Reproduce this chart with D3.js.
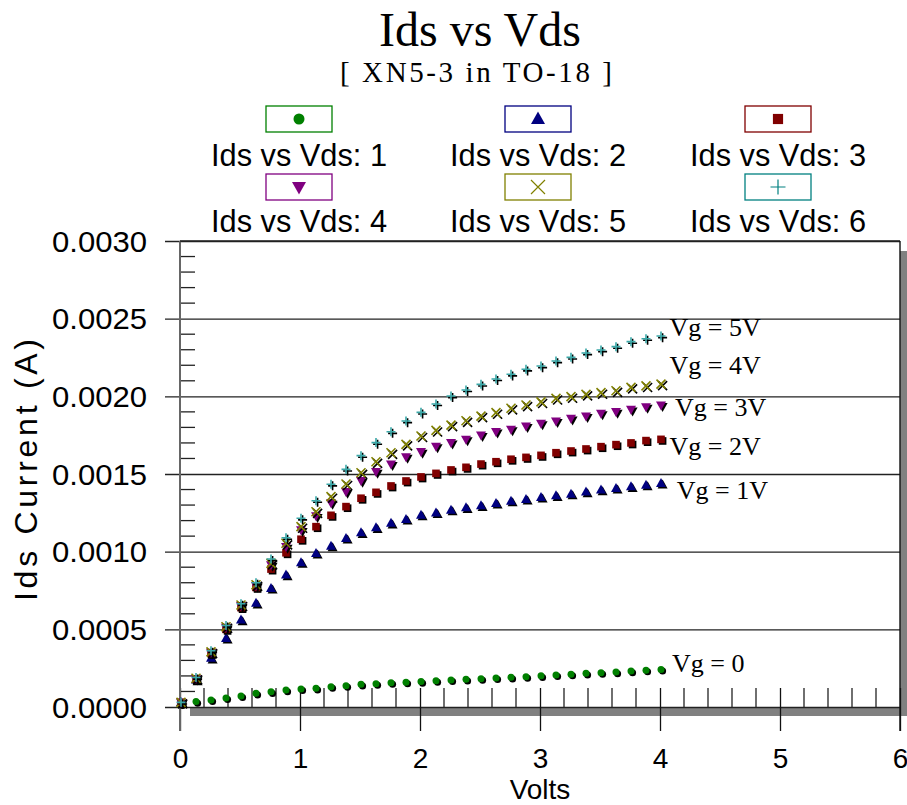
<!DOCTYPE html>
<html>
<head>
<meta charset="utf-8">
<script src="https://cdn.jsdelivr.net/npm/d3@7"></script>
<style>
  html, body { margin: 0; padding: 0; background: #ffffff; }
  svg { display: block; }
</style>
</head>
<body>
<svg id="chart" width="907" height="805"></svg>
<script>
// Drain-source sweep (V)
const volts = [0, 0.125, 0.25, 0.375, 0.5, 0.625, 0.75, 0.875, 1, 1.125, 1.25, 1.375, 1.5, 1.625, 1.75, 1.875,
  2, 2.125, 2.25, 2.375, 2.5, 2.625, 2.75, 2.875, 3, 3.125, 3.25, 3.375, 3.5, 3.625, 3.75, 3.875, 4];

// Drain current (A) for each gate voltage
const idsVg0 = [0.00002, 0.000035, 0.000045, 0.000058, 0.000071, 0.000088, 0.000098, 0.000109, 0.000116, 0.000120,
  0.000131, 0.000137, 0.000146, 0.000150, 0.000156, 0.000160, 0.000164, 0.000169, 0.000174, 0.000178, 0.000182,
  0.000187, 0.000191, 0.000195, 0.000201, 0.000206, 0.000211, 0.000217, 0.000221, 0.000225, 0.000231, 0.000237, 0.000242];
const idsVg1 = [0.00003, 0.000174, 0.000314, 0.000442, 0.000560, 0.000668, 0.000764, 0.000850, 0.000930, 0.000989,
  0.001036, 0.001086, 0.001122, 0.001154, 0.001183, 0.001208, 0.001235, 0.001250, 0.001268, 0.001283, 0.001296,
  0.001311, 0.001326, 0.001337, 0.001350, 0.001360, 0.001371, 0.001384, 0.001397, 0.001408, 0.001418, 0.001429, 0.001440];
const idsVg2 = [0.00003, 0.000180, 0.000345, 0.000500, 0.000640, 0.000770, 0.000888, 0.000993, 0.001080, 0.001161,
  0.001234, 0.001290, 0.001344, 0.001382, 0.001423, 0.001455, 0.001481, 0.001504, 0.001526, 0.001543, 0.001564,
  0.001579, 0.001595, 0.001607, 0.001620, 0.001637, 0.001648, 0.001661, 0.001676, 0.001689, 0.001700, 0.001715, 0.001723];
const idsVg3 = [0.00003, 0.000183, 0.000352, 0.000512, 0.000652, 0.000782, 0.000915, 0.001032, 0.001140, 0.001230,
  0.001315, 0.001386, 0.001457, 0.001515, 0.001564, 0.001611, 0.001644, 0.001678, 0.001702, 0.001723, 0.001751,
  0.001773, 0.001788, 0.001809, 0.001826, 0.001841, 0.001858, 0.001873, 0.001891, 0.001901, 0.001916, 0.001933, 0.001944];
const idsVg4 = [0.00003, 0.000185, 0.000355, 0.000517, 0.000657, 0.000787, 0.000925, 0.001054, 0.001161, 0.001257,
  0.001354, 0.001436, 0.001508, 0.001579, 0.001637, 0.001691, 0.001745, 0.001781, 0.001815, 0.001843, 0.001873,
  0.001895, 0.001923, 0.001944, 0.001964, 0.001987, 0.001998, 0.002013, 0.002024, 0.002036, 0.002058, 0.002067, 0.002079];
const idsVg5 = [0.00003, 0.000190, 0.000362, 0.000525, 0.000665, 0.000800, 0.000953, 0.001090, 0.001215, 0.001328,
  0.001434, 0.001530, 0.001618, 0.001702, 0.001772, 0.001841, 0.001897, 0.001951, 0.002002, 0.002041, 0.002077,
  0.002112, 0.002142, 0.002174, 0.002195, 0.002227, 0.002251, 0.002279, 0.002298, 0.002320, 0.002352, 0.002371, 0.002388];

const seriesNames = ["Ids vs Vds: 1", "Ids vs Vds: 2", "Ids vs Vds: 3", "Ids vs Vds: 4", "Ids vs Vds: 5", "Ids vs Vds: 6"];
const seriesValues = [idsVg0, idsVg1, idsVg2, idsVg3, idsVg4, idsVg5];
const seriesColors = ["#008000", "#000080", "#800000", "#800080", "#808000", "#008080"];
const markerColors = ["#008000", "#000080", "#800000", "#800080", "#808000", "#3aa8a8"];
const seriesSymbols = ["circle", "triangle", "square", "triangleDown", "cross", "plus"];

// Gate-voltage annotations, anchored in data units
const curveLabels = ["Vg = 0", "Vg = 1V", "Vg = 2V", "Vg = 3V", "Vg = 4V", "Vg = 5V"];
const curveLabelVolts = [4.1, 4.14, 4.08, 4.125, 4.08, 4.08];
const curveLabelIds = [0.000283, 0.001397, 0.001680, 0.001931, 0.002202, 0.002446];

const xTicks = [0, 1, 2, 3, 4, 5, 6];
const yTicks = [0, 0.0005, 0.0010, 0.0015, 0.0020, 0.0025, 0.0030];

const title = "Ids vs Vds";
const subtitle = "[ XN5-3 in TO-18 ]";
const xTitle = "Volts";
const yTitle = "Ids Current (A)";

// ---------------------------------------------------------------
const svg = d3.select("#chart");
const plot = { left: 180, right: 900, top: 241, bottom: 707 };

const x = d3.scaleLinear().domain([0, 6]).range([plot.left, plot.right]);
const y = d3.scaleLinear().domain([0, 0.003]).range([plot.bottom, plot.top]);

const sans = "'Liberation Sans', Arial, sans-serif";
const serif = "'Liberation Serif', 'Times New Roman', serif";

// marker paths centred on the origin
function markerPath(kind, s) {
  switch (kind) {
    case "circle": return d3.symbol(d3.symbolCircle, Math.PI * s * s / 4)();
    case "square": return d3.symbol(d3.symbolSquare, s * s * 0.72)();
    case "triangle": {
      const h = s * 0.9, w = s;
      return `M0,${-h * 0.6}L${w / 2},${h * 0.4}L${-w / 2},${h * 0.4}Z`;
    }
    case "triangleDown": {
      const h = s * 0.9, w = s;
      return `M0,${h * 0.6}L${w / 2},${-h * 0.4}L${-w / 2},${-h * 0.4}Z`;
    }
    case "cross": {
      const r = s / 2;
      return `M${-r},${-r}L${r},${r}M${-r},${r}L${r},${-r}`;
    }
    case "plus": {
      const r = s / 2;
      return `M${-r},0L${r},0M0,${-r}L0,${r}`;
    }
  }
}
const isStroke = k => k === "cross" || k === "plus";

// ---- drop shadow of the plot frame
svg.append("rect").attr("x", x(0) + 10).attr("y", plot.bottom).attr("width", 907 - (x(0) + 10)).attr("height", 9)
  .attr("fill", "#808080");
svg.append("rect").attr("x", plot.right).attr("y", plot.top + 10).attr("width", 7).attr("height", plot.bottom + 9 - (plot.top + 10))
  .attr("fill", "#808080");

// ---- horizontal gridlines (major y ticks)
const yAxis = d3.axisLeft(y).tickValues(yTicks).tickSize(-(plot.right - plot.left)).tickFormat(d3.format(".4f"));
const gy = svg.append("g").attr("transform", `translate(${plot.left},0)`).call(yAxis);
gy.select(".domain").remove();
gy.selectAll(".tick line").attr("x1", -15).attr("stroke", "#222").attr("stroke-width", 1.4);
gy.selectAll(".tick text").attr("x", -33).attr("dy", null).attr("dominant-baseline", "central")
  .attr("font-family", sans).attr("font-size", 29).attr("fill", "#000")
  .attr("textLength", 95).attr("lengthAdjust", "spacingAndGlyphs");

// minor y ticks inside the frame
const yMinor = d3.range(1, 30).map(i => i * 0.0001).filter(v => Math.abs(v / 0.0005 - Math.round(v / 0.0005)) > 1e-6);
svg.append("g").selectAll("line").data(yMinor).join("line")
  .attr("x1", plot.left).attr("x2", plot.left + 15)
  .attr("y1", d => y(d)).attr("y2", d => y(d))
  .attr("stroke", "#222").attr("stroke-width", 1.3);

// ---- x axis: minor ticks upward, major ticks crossing the baseline
const xMinor = d3.range(1, 30).map(i => i * 0.2).filter(v => Math.abs(v - Math.round(v)) > 1e-6);
svg.append("g").selectAll("line").data(xMinor).join("line")
  .attr("x1", d => x(d)).attr("x2", d => x(d))
  .attr("y1", plot.bottom - 19).attr("y2", plot.bottom)
  .attr("stroke", "#222").attr("stroke-width", 1.3);

const xAxis = d3.axisBottom(x).tickValues(xTicks).tickFormat(d3.format("d")).tickSize(24).tickPadding(10);
const gx = svg.append("g").attr("transform", `translate(0,${plot.bottom})`).call(xAxis);
gx.select(".domain").remove();
gx.selectAll(".tick line").attr("y1", -19).attr("stroke", "#111").attr("stroke-width", 1.3);
gx.selectAll(".tick text").attr("font-family", sans).attr("font-size", 28).attr("fill", "#000")
  .attr("y", 61).attr("dy", null);

// ---- frame: left axis line, top line, right line
svg.append("line").attr("x1", plot.left).attr("x2", plot.left).attr("y1", plot.top).attr("y2", plot.bottom + 24)
  .attr("stroke", "#666").attr("stroke-width", 2);
svg.append("line").attr("x1", plot.left).attr("x2", plot.right).attr("y1", plot.top).attr("y2", plot.top)
  .attr("stroke", "#222").attr("stroke-width", 1.4);
svg.append("line").attr("x1", plot.right).attr("x2", plot.right).attr("y1", plot.top).attr("y2", plot.bottom + 24)
  .attr("stroke", "#111").attr("stroke-width", 1.4);

// ---- data markers with a small black drop shadow
const markerSize = [7, 10, 9, 10, 9, 9];
seriesValues.forEach((vals, si) => {
  const kind = seriesSymbols[si];
  const g = svg.append("g");
  const pts = vals.map((v, i) => [volts[i], v]);
  const path = markerPath(kind, markerSize[si]);
  [["#000", 1.6], [markerColors[si], 0]].forEach(([col, off]) => {
    g.selectAll(null).data(pts).join("path")
      .attr("d", path)
      .attr("transform", d => `translate(${x(d[0]) + 1 + off},${y(d[1]) + off})`)
      .attr("fill", isStroke(kind) ? "none" : col)
      .attr("stroke", isStroke(kind) ? col : "none")
      .attr("stroke-width", isStroke(kind) ? 1.6 : 0);
  });
});

// ---- curve annotations
svg.append("g").selectAll("text").data(curveLabels).join("text")
  .attr("x", (d, i) => x(curveLabelVolts[i]))
  .attr("y", (d, i) => y(curveLabelIds[i]))
  .attr("dy", "0.35em")
  .attr("font-family", serif).attr("font-size", 26).attr("fill", "#000")
  .text(d => d);

// ---- titles
svg.append("text").attr("x", 480).attr("y", 46).attr("text-anchor", "middle")
  .attr("font-family", serif).attr("font-size", 48).attr("fill", "#000").text(title);
svg.append("text").attr("x", 476).attr("y", 82).attr("text-anchor", "middle")
  .attr("font-family", serif).attr("font-size", 29).attr("fill", "#000")
  .attr("textLength", 272).attr("lengthAdjust", "spacing").text(subtitle);

svg.append("text").attr("x", x(3)).attr("y", 799).attr("text-anchor", "middle")
  .attr("font-family", sans).attr("font-size", 28).attr("fill", "#000").text(xTitle);
svg.append("text").attr("transform", "translate(37,470) rotate(-90)").attr("text-anchor", "middle")
  .attr("font-family", sans).attr("font-size", 32).attr("fill", "#000")
  .attr("textLength", 262).attr("lengthAdjust", "spacing").text(yTitle);

// ---- legend: 3 columns x 2 rows, boxed symbol above each name
const legendCols = [299, 538, 778];
const legendBoxY = [106, 174];
const legendTextY = [166, 232];
const legendMarkSize = [11, 14, 12, 14, 14, 15];
seriesNames.forEach((name, i) => {
  const col = i % 3, row = Math.floor(i / 3);
  const cx = legendCols[col];
  const g = svg.append("g");
  g.append("rect").attr("x", cx - 33).attr("y", legendBoxY[row]).attr("width", 66).attr("height", 26)
    .attr("fill", "#fff").attr("stroke", seriesColors[i]).attr("stroke-width", 1.3);
  const kind = seriesSymbols[i];
  g.append("path").attr("d", markerPath(kind, legendMarkSize[i]))
    .attr("transform", `translate(${cx},${legendBoxY[row] + 13})`)
    .attr("fill", isStroke(kind) ? "none" : seriesColors[i])
    .attr("stroke", isStroke(kind) ? seriesColors[i] : "none")
    .attr("stroke-width", isStroke(kind) ? 1.2 : 0);
  g.append("text").attr("x", cx).attr("y", legendTextY[row]).attr("text-anchor", "middle")
    .attr("font-family", sans).attr("font-size", 31).attr("fill", "#000")
    .attr("textLength", 176).attr("lengthAdjust", "spacingAndGlyphs").text(name);
});
</script>
</body>
</html>
